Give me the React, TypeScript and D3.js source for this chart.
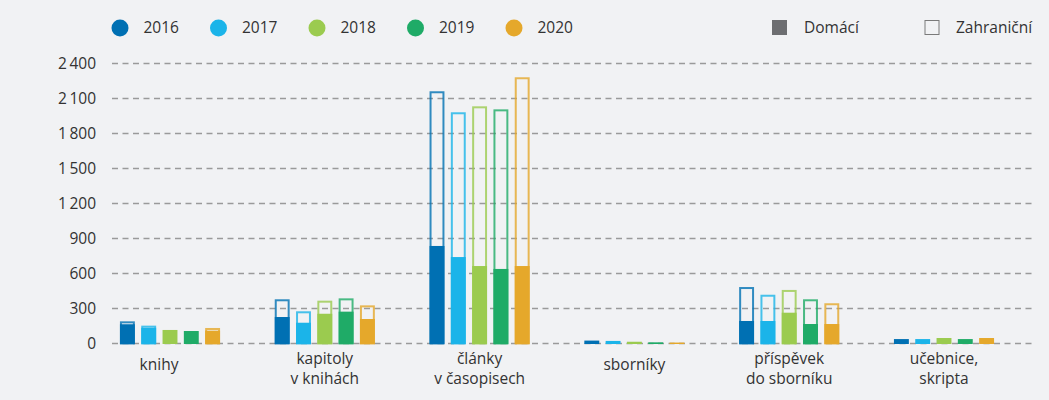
import React from "react";
import * as d3 from "d3";

const categories = ["knihy", "kapitoly|v knihách", "články|v časopisech", "sborníky", "příspěvek|do sborníku", "učebnice,|skripta"];
const years = ["2016", "2017", "2018", "2019", "2020"];
const colors = ["#0070b3", "#1bb4e9", "#9bcb4f", "#1fab67", "#e5a82b"];
// totals (domestic + foreign), per category, per year
const totals = [
  [190, 153, 116, 107, 133],
  [379, 276, 367, 387, 327],
  [2162, 1982, 2033, 2007, 2282],
  [25, 22, 15, 10, 8],
  [484, 418, 459, 379, 345],
  [38, 38, 47, 38, 47],
];
const domestic = [
  [165, 135, 116, 107, 110],
  [227, 178, 255, 273, 210],
  [836, 741, 664, 639, 664],
  [25, 22, 15, 10, 8],
  [193, 193, 264, 167, 167],
  [38, 38, 47, 38, 47],
];
const yTicks = [0, 300, 600, 900, 1200, 1500, 1800, 2100, 2400];
const typeLabels = ["Domácí", "Zahraniční"];

const W = 1049, H = 400;
const FONT = "'Open Sans', 'Noto Sans', sans-serif";
const FS = 15.5;
const TXT = "#333333";

export default function App() {
  React.useEffect(() => {
    document.body.style.margin = "0";
  }, []);
  const y = d3.scaleLinear().domain([0, 2400]).range([343.5, 63.5]);
  const x0 = d3.scaleBand<number>().domain(d3.range(categories.length)).range([92.6, 1021.4]).padding(0);
  const x1 = d3.scaleBand<number>().domain(d3.range(years.length)).range([0, 106.5]).paddingInner(0.3).paddingOuter(0.15);
  const fmt = (v: number) => d3.format(",")(v).replace(",", "\u2009");
  const legendX = d3.scalePoint<number>().domain(d3.range(years.length)).range([120, 514]);
  const labelShift = [-11, 0, 0, 0, 0, 0];

  return (
    <svg width={W} height={H} style={{ display: "block", fontFamily: FONT }}>
      <rect width={W} height={H} fill="#f1f2f4" />
      {yTicks.map((t) => (
        <g key={t}>
          <line x1={112} x2={1033} y1={y(t)} y2={y(t)} stroke="#9a9a9a" strokeWidth={1.3} strokeDasharray="6,4.5" />
          <text x={96} y={y(t)} dy="0.35em" textAnchor="end" fontSize={FS} fill={TXT}>{fmt(t)}</text>
        </g>
      ))}
      {categories.map((c, ci) => {
        const gx = x0(ci)! + x0.bandwidth() / 2 - 53.25;
        const lines = c.split("|");
        const cx = x0(ci)! + x0.bandwidth() / 2 + labelShift[ci];
        return (
          <g key={c}>
            {years.map((yr, yi) => {
              const bx = gx + x1(yi)!;
              const bw = x1.bandwidth();
              const tot = totals[ci][yi];
              const dom = domestic[ci][yi];
              return (
                <g key={yr}>
                  {tot > dom && (
                    <rect x={bx + 1} y={y(tot) + 1} width={bw - 2} height={y(0) - y(tot) - 1}
                      fill="none" stroke={colors[yi]} strokeWidth={2} strokeOpacity={0.8} />
                  )}
                  <rect x={bx} y={y(dom)} width={bw} height={y(0) - y(dom) + 0.5} fill={colors[yi]} />
                </g>
              );
            })}
            {lines.length === 1 ? (
              <text x={cx} y={370} textAnchor="middle" fontSize={FS} fill={TXT}>{lines[0]}</text>
            ) : (
              lines.map((l, li) => (
                <text key={li} x={cx} y={364 + li * 20} textAnchor="middle" fontSize={FS} fill={TXT}>{l}</text>
              ))
            )}
          </g>
        );
      })}
      {years.map((yr, yi) => (
        <g key={yr}>
          <circle cx={legendX(yi)} cy={28} r={8.5} fill={colors[yi]} />
          <text x={legendX(yi)! + 23.5} y={28} dy="0.35em" fontSize={FS} fill={TXT}>{yr}</text>
        </g>
      ))}
      <rect x={772} y={20} width={15} height={15} fill="#6d6e71" />
      <text x={804} y={28} dy="0.35em" fontSize={FS} fill={TXT}>{typeLabels[0]}</text>
      <rect x={925} y={20.5} width={14} height={14} fill="none" stroke="#7a7a7a" strokeWidth={1} />
      <text x={956} y={28} dy="0.35em" fontSize={FS} fill={TXT}>{typeLabels[1]}</text>
    </svg>
  );
}
